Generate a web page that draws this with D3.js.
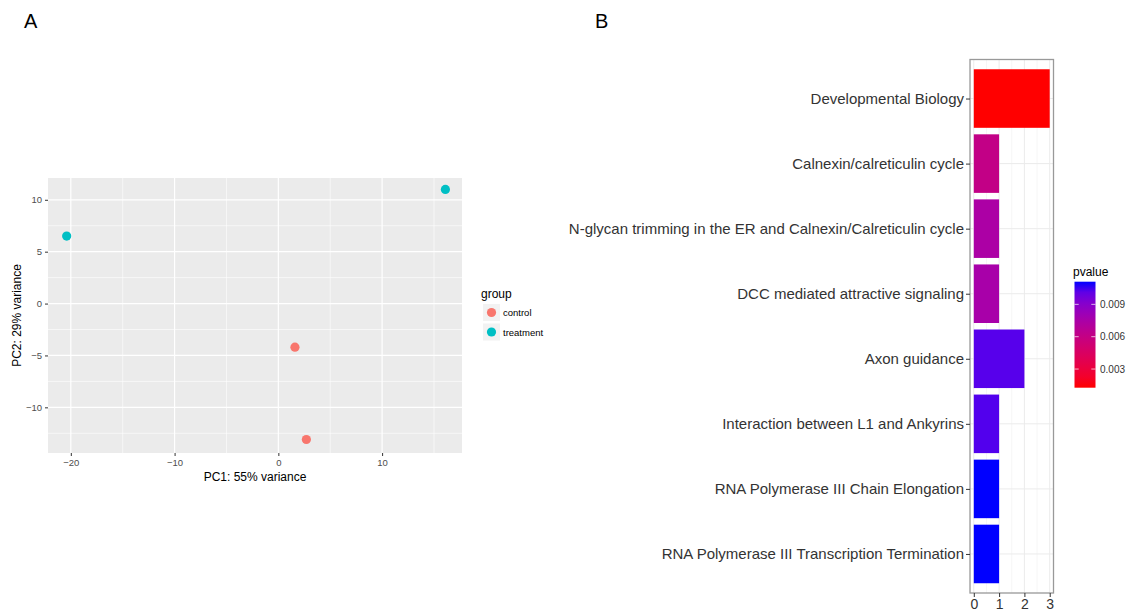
<!DOCTYPE html>
<html lang="en">
<head>
    <meta charset="UTF-8">
    <title>PCA + pathway enrichment</title>
    <script src="https://cdn.jsdelivr.net/npm/d3@7/dist/d3.min.js"></script>
    <style>
        body { margin: 0; background: #fff; }
        svg { font-family: "Liberation Sans", Arial, sans-serif; }
    </style>
</head>
<body>
<script>
    // panel A: PCA samples
    const pc1 = [1.6, 2.7, -20.4, 16.1];
    const pc2 = [-4.2, -13.1, 6.5, 11.0];
    const groups = ['control', 'control', 'treatment', 'treatment'];
    const groupLevels = ['control', 'treatment'];
    const groupColors = ['#F8766D', '#00BFC4'];
    const pcaXTicks = [-20, -10, 0, 10];
    const pcaYTicks = [-10, -5, 0, 5, 10];

    // panel B: enriched pathways
    const pathways = [
        'Developmental Biology',
        'Calnexin/calreticulin cycle',
        'N-glycan trimming in the ER and Calnexin/Calreticulin cycle',
        'DCC mediated attractive signaling',
        'Axon guidance',
        'Interaction between L1 and Ankyrins',
        'RNA Polymerase III Chain Elongation',
        'RNA Polymerase III Transcription Termination'
    ];
    const counts = [3, 1, 1, 1, 2, 1, 1, 1];
    const pvalues = [0.00127, 0.0061, 0.0074, 0.0076, 0.0103, 0.0104, 0.0111, 0.0111];
    const countTicks = [0, 1, 2, 3];
    const pvalueTicks = [0.003, 0.006, 0.009];

    const width = 1136, height = 612;
    const svg = d3.select('body').append('svg')
        .attr('width', width)
        .attr('height', height);

    // panel letters
    svg.append('text').attr('x', 24).attr('y', 28).attr('font-size', 20).text('A');
    svg.append('text').attr('x', 595).attr('y', 28).attr('font-size', 20).text('B');

    // ---------- A: PCA scatter ----------
    const ax = {left: 48, right: 462, top: 178, bottom: 453};
    const x = d3.scaleLinear().domain([-22.2, 17.7]).range([ax.left, ax.right]);
    const y = d3.scaleLinear().domain([-14.4, 12.1]).range([ax.bottom, ax.top]);
    const colour = d3.scaleOrdinal().domain(groupLevels).range(groupColors);

    const gA = svg.append('g');
    gA.append('rect')
        .attr('x', ax.left).attr('y', ax.top)
        .attr('width', ax.right - ax.left).attr('height', ax.bottom - ax.top)
        .attr('fill', '#EBEBEB');

    // minor grid
    const xMinor = pcaXTicks.map(d => d - 5).concat([15]).filter(d => d > x.domain()[0] && d < x.domain()[1]);
    const yMinor = [-12.5, -7.5, -2.5, 2.5, 7.5];
    gA.selectAll('.xminor').data(xMinor).enter().append('line')
        .attr('x1', d => x(d)).attr('x2', d => x(d))
        .attr('y1', ax.top).attr('y2', ax.bottom)
        .attr('stroke', '#fff').attr('stroke-width', 0.6);
    gA.selectAll('.yminor').data(yMinor).enter().append('line')
        .attr('y1', d => y(d)).attr('y2', d => y(d))
        .attr('x1', ax.left).attr('x2', ax.right)
        .attr('stroke', '#fff').attr('stroke-width', 0.6);
    // major grid
    gA.selectAll('.xmajor').data(pcaXTicks).enter().append('line')
        .attr('x1', d => x(d)).attr('x2', d => x(d))
        .attr('y1', ax.top).attr('y2', ax.bottom)
        .attr('stroke', '#fff').attr('stroke-width', 1.2);
    gA.selectAll('.ymajor').data(pcaYTicks).enter().append('line')
        .attr('y1', d => y(d)).attr('y2', d => y(d))
        .attr('x1', ax.left).attr('x2', ax.right)
        .attr('stroke', '#fff').attr('stroke-width', 1.2);

    // axes
    const xAxisA = gA.append('g')
        .attr('transform', `translate(0,${ax.bottom})`)
        .call(d3.axisBottom(x).tickValues(pcaXTicks).tickSize(3).tickPadding(3));
    const yAxisA = gA.append('g')
        .attr('transform', `translate(${ax.left},0)`)
        .call(d3.axisLeft(y).tickValues(pcaYTicks).tickSize(3).tickPadding(3));
    [xAxisA, yAxisA].forEach(a => {
        a.select('.domain').remove();
        a.selectAll('line').attr('stroke', '#333');
        a.selectAll('text').attr('fill', '#4D4D4D').attr('font-size', 9.5).attr('font-family', null);
    });

    gA.selectAll('circle.pt')
        .data(pc1.map((d, i) => ({x: d, y: pc2[i], g: groups[i]})))
        .enter().append('circle')
        .attr('cx', d => x(d.x)).attr('cy', d => y(d.y))
        .attr('r', 4.6)
        .attr('fill', d => colour(d.g));

    gA.append('text')
        .attr('x', (ax.left + ax.right) / 2).attr('y', 481)
        .attr('text-anchor', 'middle').attr('font-size', 12)
        .text('PC1: 55% variance');
    gA.append('text')
        .attr('transform', `translate(21,${(ax.top + ax.bottom) / 2}) rotate(-90)`)
        .attr('text-anchor', 'middle').attr('font-size', 12)
        .text('PC2: 29% variance');

    // legend
    const legA = gA.append('g').attr('transform', 'translate(481,0)');
    legA.append('text').attr('x', 0).attr('y', 298).attr('font-size', 12).text('group');
    const keys = legA.selectAll('g.key').data(groupLevels).enter().append('g')
        .attr('transform', (d, i) => `translate(2,${304 + i * 19.5})`);
    keys.append('rect').attr('width', 17).attr('height', 17).attr('fill', '#F2F2F2');
    keys.append('circle').attr('cx', 8.5).attr('cy', 8.5).attr('r', 4.6).attr('fill', d => colour(d));
    keys.append('text').attr('x', 20).attr('y', 12).attr('font-size', 9.5).text(d => d);

    // ---------- B: pathway bars ----------
    const bx = {left: 970, right: 1053.5, top: 59.5, bottom: 593};
    const xb = d3.scaleLinear().domain([-0.15, 3.15]).range([bx.left, bx.right]);
    const yb = d3.scalePoint().domain(pathways).range([bx.top, bx.bottom]).padding(0.6);
    const barH = yb.step() * 0.9;
    const pExtent = d3.extent(pvalues);
    const fill = d3.scaleLinear().domain(pExtent).range(['red', 'blue']).interpolate(d3.interpolateLab);

    const gB = svg.append('g');
    gB.append('rect')
        .attr('x', bx.left).attr('y', bx.top)
        .attr('width', bx.right - bx.left).attr('height', bx.bottom - bx.top)
        .attr('fill', '#fff');
    gB.selectAll('.bminor').data([0.5, 1.5, 2.5]).enter().append('line')
        .attr('x1', d => xb(d)).attr('x2', d => xb(d))
        .attr('y1', bx.top).attr('y2', bx.bottom)
        .attr('stroke', '#F4F4F4').attr('stroke-width', 0.8);
    gB.selectAll('.bmajor').data(countTicks).enter().append('line')
        .attr('x1', d => xb(d)).attr('x2', d => xb(d))
        .attr('y1', bx.top).attr('y2', bx.bottom)
        .attr('stroke', '#EBEBEB').attr('stroke-width', 1);
    gB.selectAll('.bhgrid').data(pathways).enter().append('line')
        .attr('y1', d => yb(d)).attr('y2', d => yb(d))
        .attr('x1', bx.left).attr('x2', bx.right)
        .attr('stroke', '#EBEBEB').attr('stroke-width', 1);

    gB.selectAll('rect.bar')
        .data(pathways.map((p, i) => ({p, n: counts[i], pv: pvalues[i]})))
        .enter().append('rect')
        .attr('class', 'bar')
        .attr('x', xb(0))
        .attr('y', d => yb(d.p) - barH / 2)
        .attr('width', d => xb(d.n) - xb(0))
        .attr('height', barH)
        .attr('fill', d => fill(d.pv));

    gB.append('rect')
        .attr('x', bx.left).attr('y', bx.top)
        .attr('width', bx.right - bx.left).attr('height', bx.bottom - bx.top)
        .attr('fill', 'none').attr('stroke', '#999').attr('stroke-width', 1.3);

    const xAxisB = gB.append('g')
        .attr('transform', `translate(0,${bx.bottom})`)
        .call(d3.axisBottom(xb).tickValues(countTicks).tickFormat(d3.format('d')).tickSize(4).tickPadding(2));
    const yAxisB = gB.append('g')
        .attr('transform', `translate(${bx.left},0)`)
        .call(d3.axisLeft(yb).tickSize(4).tickPadding(2));
    [xAxisB, yAxisB].forEach(a => {
        a.select('.domain').remove();
        a.selectAll('line').attr('stroke', '#333');
        a.selectAll('text').attr('fill', '#333').attr('font-size', 15).attr('font-family', null);
    });
    xAxisB.selectAll('text').attr('font-size', 14);

    // colour bar legend
    const leg = gB.append('g');
    const legY = d3.scaleLinear().domain(pExtent).range([387.7, 281.7]);
    const grad = svg.append('defs').append('linearGradient')
        .attr('id', 'pgrad').attr('x1', 0).attr('x2', 0).attr('y1', 1).attr('y2', 0);
    d3.range(0, 1.0001, 0.1).forEach(t => {
        grad.append('stop').attr('offset', t)
            .attr('stop-color', fill(pExtent[0] + t * (pExtent[1] - pExtent[0])));
    });
    leg.append('text').attr('x', 1073).attr('y', 276).attr('font-size', 12).text('pvalue');
    leg.append('rect')
        .attr('x', 1074.5).attr('y', legY(pExtent[1]))
        .attr('width', 21).attr('height', legY(pExtent[0]) - legY(pExtent[1]))
        .attr('fill', 'url(#pgrad)');
    pvalueTicks.forEach(v => {
        leg.append('line').attr('x1', 1074.5).attr('x2', 1078.7)
            .attr('y1', legY(v)).attr('y2', legY(v)).attr('stroke', '#fff').attr('opacity', 0.7);
        leg.append('line').attr('x1', 1091.3).attr('x2', 1095.5)
            .attr('y1', legY(v)).attr('y2', legY(v)).attr('stroke', '#fff').attr('opacity', 0.7);
        leg.append('text').attr('x', 1100).attr('y', legY(v) + 3.5)
            .attr('font-size', 10).attr('fill', '#333').text(v.toFixed(3));
    });
</script>
</body>
</html>
